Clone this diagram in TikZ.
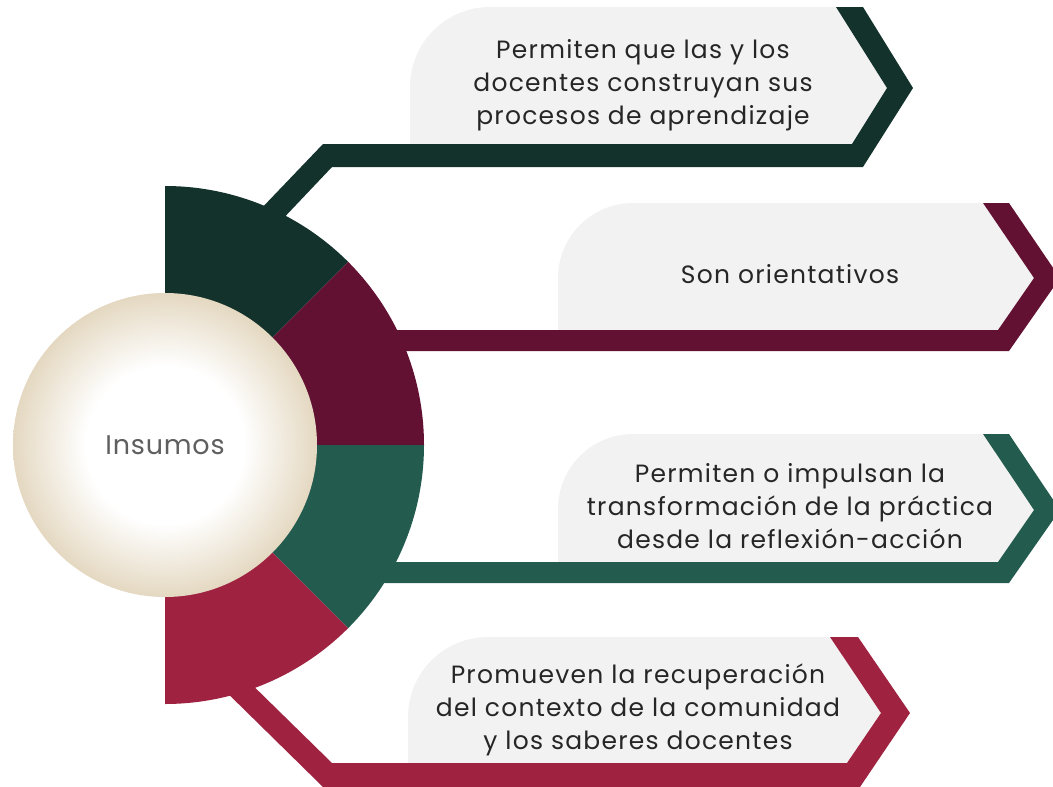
\documentclass[tikz,border=0pt]{standalone}
\usepackage{fontspec}
\setmainfont{Poppins}
\definecolor{verdeosc}{HTML}{13322B}
\definecolor{guinda}{HTML}{621132}
\definecolor{verde}{HTML}{235B4E}
\definecolor{rojo}{HTML}{9F2241}
\definecolor{gris}{HTML}{F2F2F2}
\definecolor{texto}{HTML}{262626}
\definecolor{textoc}{HTML}{5F5F5F}
\definecolor{beige}{HTML}{E4D8C1}
\pgfdeclareradialshading{esfera}{\pgfpoint{0bp}{0bp}}{color(0bp)=(white); color(13bp)=(white); color(25bp)=(beige); color(50bp)=(beige)}
\begin{document}
\begin{tikzpicture}[x=1pt, y=-1pt]
            \useasboundingbox (0,0) rectangle (1053,787);

            % cajas grises
            \begin{scope}[every path/.style = {fill=gris}]
                \path (410,144) -- (410,87) arc[start angle=180, end angle=270, radius=80] -- (836,7) -- (887,88) -- (852,144) -- cycle;
                \path (558,330) -- (558,278) arc[start angle=180, end angle=270, radius=75] -- (983,203) -- (1034,278) -- (998,330) -- cycle;
                \path (558,562) -- (558,509) arc[start angle=180, end angle=270, radius=75] -- (983,434) -- (1034,510) -- (998,562) -- cycle;
                \path (408,763) -- (408,717) arc[start angle=180, end angle=270, radius=80] -- (830,637) -- (881,713) -- (847,763) -- cycle;
            \end{scope}

            % bandas
            \fill[verdeosc] (235,236) -- (323,144) -- (852,144) -- (887,88) -- (836,7) -- (863,7) -- (913,88) -- (863,167) -- (332,167) -- (242,262) -- cycle;
            \fill[guinda] (370,330) -- (998,330) -- (1034,278) -- (983,203) -- (1009,203) -- (1060,278) -- (1009,351) -- (370,351) -- cycle;
            \fill[verde] (370,562) -- (998,562) -- (1034,510) -- (983,434) -- (1009,434) -- (1060,510) -- (1009,583) -- (370,583) -- cycle;
            \fill[rojo] (235,668) -- (332,763) -- (847,763) -- (881,713) -- (830,637) -- (858,637) -- (910,713) -- (860,787) -- (323,787) -- (210,676) -- cycle;

            % anillo
            \fill[verdeosc] (165,445) -- ++(-90:259) arc[start angle=-90, end angle=-45, radius=259] -- cycle;
            \fill[guinda] (165,445) -- ++(-45:259) arc[start angle=-45, end angle=0, radius=259] -- cycle;
            \fill[verde] (165,445) -- ++(0:259) arc[start angle=0, end angle=45, radius=259] -- cycle;
            \fill[rojo] (165,445) -- ++(45:259) arc[start angle=45, end angle=90, radius=259] -- cycle;

            \node[circle, shade, shading=esfera, minimum size=304pt, inner sep=0pt, text=textoc, font=\fontsize{27}{32}\selectfont\addfontfeature{LetterSpace=3}] (0) at (165,445) {Insumos};

            \begin{scope}[every node/.style = {align=center, text=texto, font=\fontsize{25}{33}\selectfont\addfontfeature{LetterSpace=5}}]
                \node (1) at (643,85) {Permiten que las y los\\docentes construyan sus\\procesos de aprendizaje};
                \node (2) at (790,274) {Son orientativos};
                \node (3) at (790,506) {Permiten o impulsan la\\transformación de la práctica\\desde la reflexión-acción};
                \node (4) at (638,710) {Promueven la recuperación\\del contexto de la comunidad\\y los saberes docentes};
            \end{scope}
        \end{tikzpicture}
\end{document}
